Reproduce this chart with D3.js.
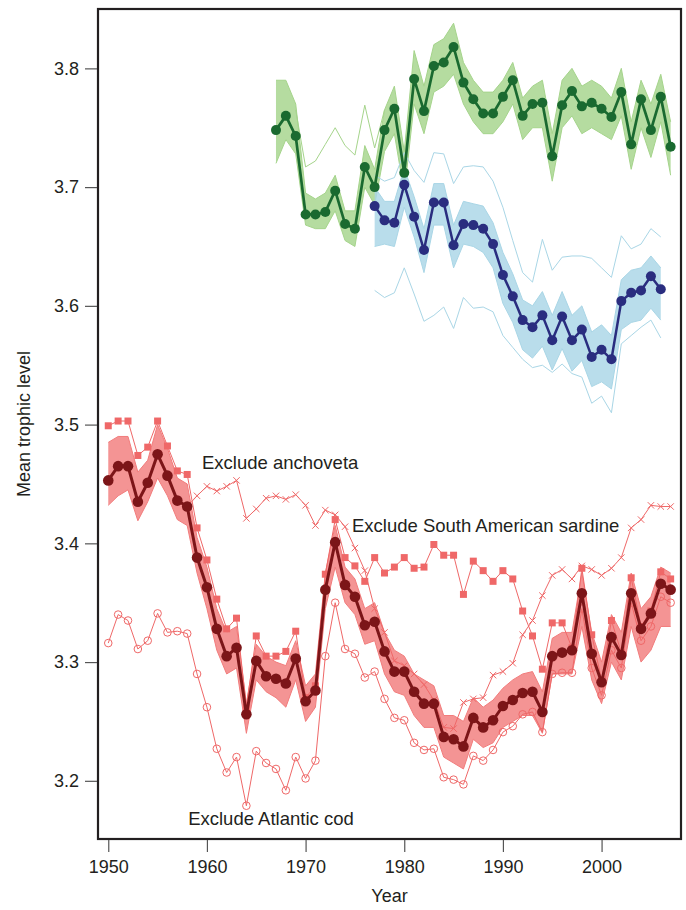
<!DOCTYPE html>
<html>
<head>
<meta charset="utf-8">
<script src="https://cdn.jsdelivr.net/npm/d3@7"></script>
<style>
  body { margin: 0; background: #fff; }
  text { font-family: "Liberation Sans", Arial, Helvetica, sans-serif; fill: #231f20; }
</style>
</head>
<body>
<div id="chart"></div>
<script>
// years for each group
const redYears = d3.range(1950, 2008);
const greenYears = d3.range(1967, 2008);
const blueYears = d3.range(1977, 2007);

// red (global) series, 1950-2007
const redMain = [
  3.453, 3.465, 3.465, 3.435, 3.451, 3.475, 3.457, 3.436, 3.431, 3.388,
  3.363, 3.328, 3.305, 3.312, 3.256, 3.301, 3.288, 3.286, 3.282, 3.303,
  3.267, 3.276, 3.361, 3.401, 3.365, 3.355, 3.331, 3.334, 3.309, 3.292,
  3.292, 3.275, 3.265, 3.265, 3.237, 3.235, 3.229, 3.253, 3.245, 3.251,
  3.263, 3.268, 3.274, 3.275, 3.258, 3.305, 3.308, 3.310, 3.358, 3.307,
  3.283, 3.321, 3.306, 3.358, 3.328, 3.341, 3.366, 3.361
];
const redLow = [
  3.432, 3.440, 3.445, 3.419, 3.435, 3.455, 3.440, 3.420, 3.415, 3.375,
  3.345, 3.310, 3.290, 3.295, 3.240, 3.285, 3.275, 3.270, 3.262, 3.285,
  3.250, 3.262, 3.345, 3.380, 3.350, 3.340, 3.315, 3.318, 3.290, 3.275,
  3.272, 3.255, 3.245, 3.245, 3.220, 3.215, 3.210, 3.235, 3.228, 3.232,
  3.245, 3.250, 3.255, 3.255, 3.240, 3.290, 3.290, 3.290, 3.330, 3.285,
  3.265, 3.300, 3.285, 3.330, 3.300, 3.310, 3.330, 3.330
];
const redHigh = [
  3.485, 3.490, 3.490, 3.460, 3.470, 3.500, 3.480, 3.455, 3.450, 3.405,
  3.380, 3.345, 3.325, 3.330, 3.265, 3.315, 3.305, 3.300, 3.297, 3.318,
  3.280, 3.290, 3.375, 3.415, 3.380, 3.370, 3.345, 3.350, 3.325, 3.310,
  3.305, 3.290, 3.285, 3.280, 3.255, 3.255, 3.250, 3.270, 3.262, 3.268,
  3.278, 3.285, 3.290, 3.292, 3.275, 3.320, 3.325, 3.325, 3.375, 3.325,
  3.300, 3.340, 3.325, 3.375, 3.345, 3.355, 3.380, 3.375
];
// exclusion runs, 1950-2007
const exclAnchoveta = [
  3.453, 3.465, 3.465, 3.435, 3.451, 3.475, 3.457, 3.436, 3.431, 3.440,
  3.448, 3.444, 3.448, 3.453, 3.421, 3.429, 3.438, 3.440, 3.437, 3.441,
  3.432, 3.415, 3.428, 3.424, 3.414, 3.396, 3.377, 3.345, 3.325, 3.301,
  3.297, 3.290, 3.281, 3.268, 3.245, 3.244, 3.266, 3.269, 3.270, 3.289,
  3.292, 3.299, 3.323, 3.335, 3.356, 3.373, 3.378, 3.370, 3.381, 3.378,
  3.373, 3.379, 3.388, 3.413, 3.420, 3.432, 3.431, 3.431
];
const exclSardine = [
  3.499, 3.503, 3.503, 3.474, 3.481, 3.503, 3.482, 3.461, 3.458, 3.413,
  3.386, 3.353, 3.328, 3.337, 3.262, 3.322, 3.305, 3.305, 3.309, 3.326,
  3.270, 3.280, 3.374, 3.420, 3.388, 3.381, 3.368, 3.388, 3.375, 3.380,
  3.388, 3.379, 3.380, 3.399, 3.390, 3.390, 3.357, 3.385, 3.377, 3.368,
  3.377, 3.370, 3.343, 3.322, 3.294, 3.333, 3.333, 3.312, 3.379, 3.323,
  3.285, 3.335, 3.308, 3.371, 3.330, 3.343, 3.376, 3.370
];
const exclCod = [
  3.316, 3.340, 3.335, 3.311, 3.318, 3.341, 3.325, 3.326, 3.324, 3.290,
  3.262, 3.227, 3.207, 3.220, 3.179, 3.225, 3.215, 3.210, 3.192, 3.220,
  3.202, 3.217, 3.305, 3.350, 3.311, 3.307, 3.287, 3.292, 3.269, 3.253,
  3.251, 3.232, 3.226, 3.227, 3.203, 3.201, 3.197, 3.221, 3.217, 3.226,
  3.241, 3.246, 3.256, 3.258, 3.241, 3.290, 3.291, 3.291, 3.345, 3.295,
  3.272, 3.310, 3.295, 3.350, 3.318, 3.330, 3.355, 3.350
];

// green series, 1967-2007
const greenMain = [
  3.748, 3.760, 3.743, 3.677, 3.677, 3.679, 3.697, 3.669, 3.665, 3.717,
  3.700, 3.748, 3.766, 3.712, 3.791, 3.764, 3.802, 3.805, 3.818, 3.788,
  3.774, 3.762, 3.762, 3.776, 3.790, 3.760, 3.770, 3.771, 3.726, 3.769,
  3.781, 3.768, 3.771, 3.766, 3.759, 3.780, 3.736, 3.774, 3.748, 3.776,
  3.734
];
const greenLow = [
  3.720, 3.740, 3.728, 3.668, 3.665, 3.665, 3.680, 3.655, 3.650, 3.700,
  3.685, 3.730, 3.745, 3.695, 3.770, 3.745, 3.780, 3.785, 3.795, 3.770,
  3.755, 3.745, 3.745, 3.755, 3.770, 3.740, 3.750, 3.750, 3.705, 3.750,
  3.760, 3.745, 3.750, 3.745, 3.740, 3.760, 3.715, 3.750, 3.725, 3.755,
  3.710
];
const greenHigh = [
  3.790, 3.790, 3.770, 3.695, 3.690, 3.695, 3.710, 3.680, 3.680, 3.735,
  3.715, 3.765, 3.785, 3.730, 3.815, 3.785, 3.820, 3.825, 3.838, 3.805,
  3.790, 3.780, 3.780, 3.790, 3.805, 3.775, 3.785, 3.790, 3.745, 3.790,
  3.800, 3.785, 3.790, 3.785, 3.775, 3.800, 3.755, 3.790, 3.770, 3.795,
  3.755
];
const greenOutlierYears = d3.range(1969, 1979);
const greenOutlier = [3.765, 3.717, 3.722, 3.736, 3.750, 3.735, 3.727, 3.769, 3.733, 3.765];

// blue series, 1977-2006
const blueMain = [
  3.684, 3.672, 3.670, 3.702, 3.675, 3.647, 3.687, 3.687, 3.651, 3.669,
  3.668, 3.665, 3.652, 3.626, 3.608, 3.588, 3.582, 3.592, 3.571, 3.591,
  3.571, 3.580, 3.557, 3.563, 3.555, 3.604, 3.611, 3.613, 3.625, 3.614
];
const blueLow = [
  3.650, 3.652, 3.650, 3.683, 3.658, 3.628, 3.668, 3.668, 3.632, 3.652,
  3.650, 3.645, 3.632, 3.602, 3.586, 3.563, 3.556, 3.566, 3.546, 3.564,
  3.545, 3.554, 3.532, 3.536, 3.530, 3.580, 3.586, 3.588, 3.598, 3.588
];
const blueHigh = [
  3.700, 3.688, 3.688, 3.716, 3.692, 3.665, 3.703, 3.703, 3.668, 3.688,
  3.686, 3.684, 3.670, 3.645, 3.627, 3.605, 3.600, 3.612, 3.592, 3.612,
  3.592, 3.600, 3.578, 3.584, 3.575, 3.622, 3.630, 3.632, 3.642, 3.632
];
const blueOutlierHigh = [
  3.710, 3.705, 3.708, 3.729, 3.714, 3.704, 3.729, 3.728, 3.703, 3.717,
  3.718, 3.717, 3.705, 3.683, 3.655, 3.628, 3.620, 3.656, 3.630, 3.641,
  3.642, 3.642, 3.640, 3.632, 3.624, 3.659, 3.648, 3.652, 3.665, 3.658
];
const blueOutlierLow = [
  3.613, 3.607, 3.611, 3.632, 3.610, 3.587, 3.592, 3.599, 3.581, 3.607,
  3.598, 3.599, 3.595, 3.575, 3.565, 3.555, 3.548, 3.550, 3.544, 3.551,
  3.543, 3.540, 3.518, 3.524, 3.510, 3.568, 3.575, 3.582, 3.588, 3.573
];

const xTicks = [1950, 1960, 1970, 1980, 1990, 2000];
const yTicks = [3.2, 3.3, 3.4, 3.5, 3.6, 3.7, 3.8];

const labels = [
  {text: "Exclude anchoveta", year: 1959.5, value: 3.4625},
  {text: "Exclude South American sardine", year: 1974.7, value: 3.4095},
  {text: "Exclude Atlantic cod", year: 1958.1, value: 3.1625}
];


class TrophicVis {

  constructor(parentElement) {
    this.parentElement = parentElement;
    this.initVis();
  }

  initVis() {
    let vis = this;

    vis.margin = {top: 9, right: 5, bottom: 71, left: 98};
    vis.width = 686 - vis.margin.left - vis.margin.right;
    vis.height = 910 - vis.margin.top - vis.margin.bottom;

    vis.svg = d3.select("#" + vis.parentElement).append("svg")
      .attr("width", 686)
      .attr("height", 910)
      .append("g")
      .attr("transform", `translate(${vis.margin.left}, ${vis.margin.top})`);

    vis.x = d3.scaleLinear().domain([1948.96, 2008.05]).range([0, vis.width]);
    vis.y = d3.scaleLinear().domain([3.151, 3.850]).range([vis.height, 0]);

    vis.line = (years) => d3.line()
      .x((d, i) => vis.x(years[i]))
      .y(d => vis.y(d));

    vis.updateVis();
  }

  band(years, lo, hi, color) {
    let vis = this;
    let rows = years.map((yr, i) => ({yr: yr, lo: lo[i], hi: hi[i]}));
    let area = d3.area()
      .x(d => vis.x(d.yr))
      .y0(d => vis.y(d.lo))
      .y1(d => vis.y(d.hi));
    vis.svg.append("path")
      .datum(rows)
      .attr("d", area)
      .attr("fill", color)
      .attr("fill-opacity", 0.82);
    [lo, hi].forEach(s => vis.thin(years, s, color));
  }

  thin(years, values, color) {
    let vis = this;
    vis.svg.append("path")
      .datum(values)
      .attr("d", vis.line(years))
      .attr("fill", "none")
      .attr("stroke", color)
      .attr("stroke-width", 1);
  }

  mainSeries(years, values, color, width, r) {
    let vis = this;
    vis.svg.append("path")
      .datum(values)
      .attr("d", vis.line(years))
      .attr("fill", "none")
      .attr("stroke", color)
      .attr("stroke-width", width)
      .attr("stroke-linejoin", "round");
    vis.svg.append("g").selectAll("circle")
      .data(values)
      .join("circle")
      .attr("cx", (d, i) => vis.x(years[i]))
      .attr("cy", d => vis.y(d))
      .attr("r", r)
      .attr("fill", color);
  }

  updateVis() {
    let vis = this;
    const salmon = "#ef6868";

    // ensembles
    vis.band(greenYears, greenLow, greenHigh, "#a5d48b");
    vis.thin(greenOutlierYears, greenOutlier, "#a5d48b");
    vis.band(blueYears, blueLow, blueHigh, "#a9d6e6");
    vis.thin(blueYears, blueOutlierHigh, "#a9d6e6");
    vis.thin(blueYears, blueOutlierLow, "#a9d6e6");
    vis.band(redYears, redLow, redHigh, "#f27c7c");

    // exclude Atlantic cod: open circles
    vis.thin(redYears, exclCod, salmon);
    vis.svg.append("g").selectAll("circle")
      .data(exclCod)
      .join("circle")
      .attr("cx", (d, i) => vis.x(redYears[i]))
      .attr("cy", d => vis.y(d))
      .attr("r", 3.8)
      .attr("fill", "none")
      .attr("stroke", salmon)
      .attr("stroke-width", 1);

    // exclude anchoveta: crosses
    vis.thin(redYears, exclAnchoveta, salmon);
    vis.svg.append("g").selectAll("path")
      .data(exclAnchoveta)
      .join("path")
      .attr("transform", (d, i) => `translate(${vis.x(redYears[i])},${vis.y(d)})`)
      .attr("d", "M-3.2,-3.2L3.2,3.2M-3.2,3.2L3.2,-3.2")
      .attr("stroke", salmon)
      .attr("stroke-width", 1);

    // exclude South American sardine: squares
    vis.thin(redYears, exclSardine, salmon);
    vis.svg.append("g").selectAll("path")
      .data(exclSardine)
      .join("path")
      .attr("transform", (d, i) => `translate(${vis.x(redYears[i])},${vis.y(d)})`)
      .attr("d", d3.symbol(d3.symbolSquare, 49))
      .attr("fill", salmon);

    // main lines
    vis.mainSeries(greenYears, greenMain, "#1a6a30", 2.7, 5);
    vis.mainSeries(blueYears, blueMain, "#2a2d7f", 2.5, 5);
    vis.mainSeries(redYears, redMain, "#7c1518", 3, 5.3);

    // labels
    vis.svg.selectAll(".note")
      .data(labels)
      .join("text")
      .attr("class", "note")
      .attr("x", d => vis.x(d.year))
      .attr("y", d => vis.y(d.value))
      .style("font-size", "18.5px")
      .text(d => d.text);

    // frame
    vis.svg.append("rect")
      .attr("width", vis.width)
      .attr("height", vis.height)
      .attr("fill", "none")
      .attr("stroke", "#231f20")
      .attr("stroke-width", 2.2);

    // axes
    let xAxis = vis.svg.append("g")
      .attr("transform", `translate(0,${vis.height + 1})`)
      .call(d3.axisBottom(vis.x).tickValues(xTicks).tickSize(12).tickPadding(8).tickFormat(d3.format("d")));
    let yAxis = vis.svg.append("g")
      .attr("transform", "translate(-1,0)")
      .call(d3.axisLeft(vis.y).tickValues(yTicks).tickSize(12).tickPadding(6).tickFormat(d3.format(".1f")));
    [xAxis, yAxis].forEach(g => {
      g.select(".domain").remove();
      g.selectAll(".tick line").attr("stroke", "#555").attr("stroke-width", 1.2);
      g.selectAll(".tick text")
        .style("font-size", "18px")
        .style("font-family", "'Liberation Sans', Arial, sans-serif")
        .attr("fill", "#231f20");
    });

    vis.svg.append("text")
      .attr("x", vis.width / 2)
      .attr("y", vis.height + 63)
      .attr("text-anchor", "middle")
      .style("font-size", "18px")
      .text("Year");

    vis.svg.append("text")
      .attr("transform", `translate(-68,${vis.height / 2}) rotate(-90)`)
      .attr("text-anchor", "middle")
      .style("font-size", "18px")
      .text("Mean trophic level");
  }
}

new TrophicVis("chart");
</script>
</body>
</html>
